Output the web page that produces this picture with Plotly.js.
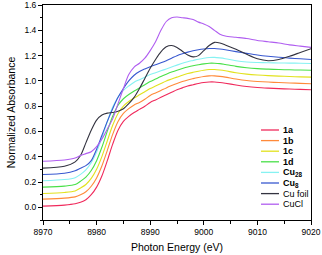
<!DOCTYPE html>
<html><head><meta charset="utf-8">
<script src="https://cdn.plot.ly/plotly-3.0.1.min.js"></script>
<style>html,body{margin:0;padding:0;background:#fff;}#chart{width:322px;height:255px;}</style>
</head><body><div id="chart"></div>
<script>
var energy = [8970, 8974, 8976, 8977, 8978, 8979, 8980, 8981, 8982, 8983, 8984, 8985, 8986, 8987, 8988, 8989, 8990, 8991, 8992, 8993, 8994, 8995, 8996, 8997, 8998, 8999, 9000, 9001, 9002, 9003, 9004, 9006, 9008, 9010, 9012, 9014, 9016, 9018, 9020];

var s1a = [0.010, 0.018, 0.028, 0.040, 0.060, 0.100, 0.160, 0.250, 0.370, 0.500, 0.610, 0.680, 0.720, 0.750, 0.775, 0.800, 0.830, 0.850, 0.870, 0.890, 0.910, 0.930, 0.945, 0.960, 0.970, 0.980, 0.988, 0.992, 0.992, 0.988, 0.982, 0.968, 0.956, 0.948, 0.943, 0.939, 0.936, 0.933, 0.930];
var s1b = [0.065, 0.073, 0.083, 0.099, 0.123, 0.167, 0.233, 0.329, 0.451, 0.577, 0.679, 0.743, 0.781, 0.810, 0.830, 0.855, 0.885, 0.905, 0.925, 0.945, 0.963, 0.980, 0.995, 1.008, 1.018, 1.027, 1.035, 1.040, 1.040, 1.036, 1.030, 1.015, 1.003, 0.996, 0.991, 0.987, 0.984, 0.981, 0.978];
var s1c = [0.110, 0.118, 0.130, 0.153, 0.181, 0.229, 0.301, 0.403, 0.527, 0.649, 0.743, 0.801, 0.837, 0.865, 0.890, 0.915, 0.940, 0.960, 0.980, 1.000, 1.015, 1.030, 1.045, 1.058, 1.068, 1.077, 1.085, 1.090, 1.090, 1.086, 1.080, 1.065, 1.054, 1.047, 1.042, 1.038, 1.035, 1.032, 1.030];
var s1d = [0.160, 0.168, 0.180, 0.207, 0.239, 0.291, 0.369, 0.477, 0.603, 0.721, 0.807, 0.859, 0.893, 0.920, 0.945, 0.970, 0.995, 1.015, 1.035, 1.053, 1.070, 1.085, 1.098, 1.110, 1.120, 1.128, 1.135, 1.140, 1.140, 1.137, 1.130, 1.115, 1.104, 1.097, 1.093, 1.090, 1.088, 1.086, 1.085];
var sCu28 = [0.210, 0.220, 0.235, 0.261, 0.297, 0.353, 0.437, 0.551, 0.679, 0.793, 0.871, 0.925, 0.960, 0.990, 1.010, 1.030, 1.050, 1.065, 1.080, 1.095, 1.110, 1.125, 1.140, 1.152, 1.162, 1.172, 1.180, 1.185, 1.186, 1.182, 1.176, 1.160, 1.150, 1.146, 1.144, 1.142, 1.141, 1.140, 1.138];
var sCu8 = [0.260, 0.270, 0.290, 0.310, 0.330, 0.370, 0.460, 0.570, 0.680, 0.780, 0.870, 0.940, 1.000, 1.045, 1.075, 1.095, 1.112, 1.128, 1.143, 1.160, 1.180, 1.200, 1.215, 1.228, 1.238, 1.246, 1.252, 1.256, 1.256, 1.252, 1.246, 1.232, 1.218, 1.205, 1.195, 1.187, 1.180, 1.175, 1.170];
var sCuFoil = [0.310, 0.325, 0.360, 0.410, 0.510, 0.610, 0.690, 0.730, 0.745, 0.750, 0.760, 0.780, 0.820, 0.870, 0.940, 1.020, 1.100, 1.170, 1.230, 1.270, 1.280, 1.265, 1.235, 1.205, 1.190, 1.200, 1.240, 1.280, 1.305, 1.300, 1.285, 1.250, 1.210, 1.175, 1.160, 1.170, 1.195, 1.225, 1.255];
var sCuCl = [0.365, 0.375, 0.390, 0.410, 0.425, 0.440, 0.480, 0.540, 0.620, 0.700, 0.820, 0.940, 1.050, 1.110, 1.140, 1.180, 1.240, 1.310, 1.400, 1.470, 1.500, 1.505, 1.500, 1.495, 1.485, 1.465, 1.450, 1.430, 1.400, 1.370, 1.355, 1.345, 1.335, 1.320, 1.310, 1.300, 1.285, 1.275, 1.265];

var seriesNames = ['1a', '1b', '1c', '1d', 'Cu28', 'Cu8', 'Cu foil', 'CuCl'];
var legendLabels = ['<b>1a</b>', '<b>1b</b>', '<b>1c</b>', '<b>1d</b>', '<b>Cu<sub>28</sub></b>', '<b>Cu<sub>8</sub></b>', 'Cu foil', 'CuCl'];
var seriesValues = [s1a, s1b, s1c, s1d, sCu28, sCu8, sCuFoil, sCuCl];
var colors = ['#f02a5c', '#ff8a3a', '#e2e21e', '#48e048', '#86f2f2', '#3858d0', '#333340', '#b05ef0'];

var traces = seriesValues.map(function(v, i){
  return {x: energy, y: v, type: 'scatter', mode: 'lines', name: seriesNames[i],
    line: {color: colors[i], width: 1.1, shape: 'spline', smoothing: 0.8}, showlegend: false};
});

// custom compact legend (paper coordinates)
var L = 43, R = 311, T = 5, B = 220;
function px2x(p){ return (p - L) / (R - L); }
function py2y(p){ return (B - p) / (B - T); }
var shapes = [], annotations = [];
for (var i = 0; i < seriesNames.length; i++) {
  var yy = 130 + i * 10.6;
  shapes.push({type: 'line', xref: 'paper', yref: 'paper', x0: px2x(261), x1: px2x(279), y0: py2y(yy), y1: py2y(yy),
    line: {color: colors[i], width: 1.3}});
  annotations.push({xref: 'paper', yref: 'paper', x: px2x(281), y: py2y(yy), xanchor: 'left', yanchor: 'middle',
    text: legendLabels[i], showarrow: false, font: {family: 'Liberation Sans, Arial, sans-serif', size: 9, color: '#000'}});
}

var layout = {
  width: 322, height: 255,
  margin: {l: L, r: 322 - R, t: T, b: 255 - B},
  paper_bgcolor: '#fff', plot_bgcolor: '#fff',
  font: {family: 'Liberation Sans, Arial, sans-serif', size: 8.5, color: '#000'},
  xaxis: {range: [8970, 9020], tickvals: [8970, 8980, 8990, 9000, 9010, 9020],
    ticks: 'outside', ticklen: 4, tickwidth: 1, tickcolor: '#000',
    showline: true, linecolor: '#000', linewidth: 1, mirror: true, showgrid: false, zeroline: false,
    minor: {dtick: 5, tick0: 8970, ticks: 'outside', ticklen: 2.5, tickcolor: '#000', showgrid: false},
    title: {text: 'Photon Energy (eV)', font: {size: 10.5}, standoff: 7}},
  yaxis: {range: [-0.1, 1.6005], tickvals: [0, 0.2, 0.4, 0.6, 0.8, 1.0, 1.2, 1.4, 1.6], tickformat: '.1f',
    ticks: 'outside', ticklen: 4, tickwidth: 1, tickcolor: '#000',
    showline: true, linecolor: '#000', linewidth: 1, mirror: true, showgrid: false, zeroline: false,
    minor: {dtick: 0.1, tick0: 0, ticks: 'outside', ticklen: 2.5, tickcolor: '#000', showgrid: false},
    title: {text: 'Normalized Absorbance', font: {size: 10.5}, standoff: 6}},
  shapes: shapes, annotations: annotations,
  showlegend: false
};
Plotly.newPlot('chart', traces, layout, {displayModeBar: false, staticPlot: true});
</script></body></html>
